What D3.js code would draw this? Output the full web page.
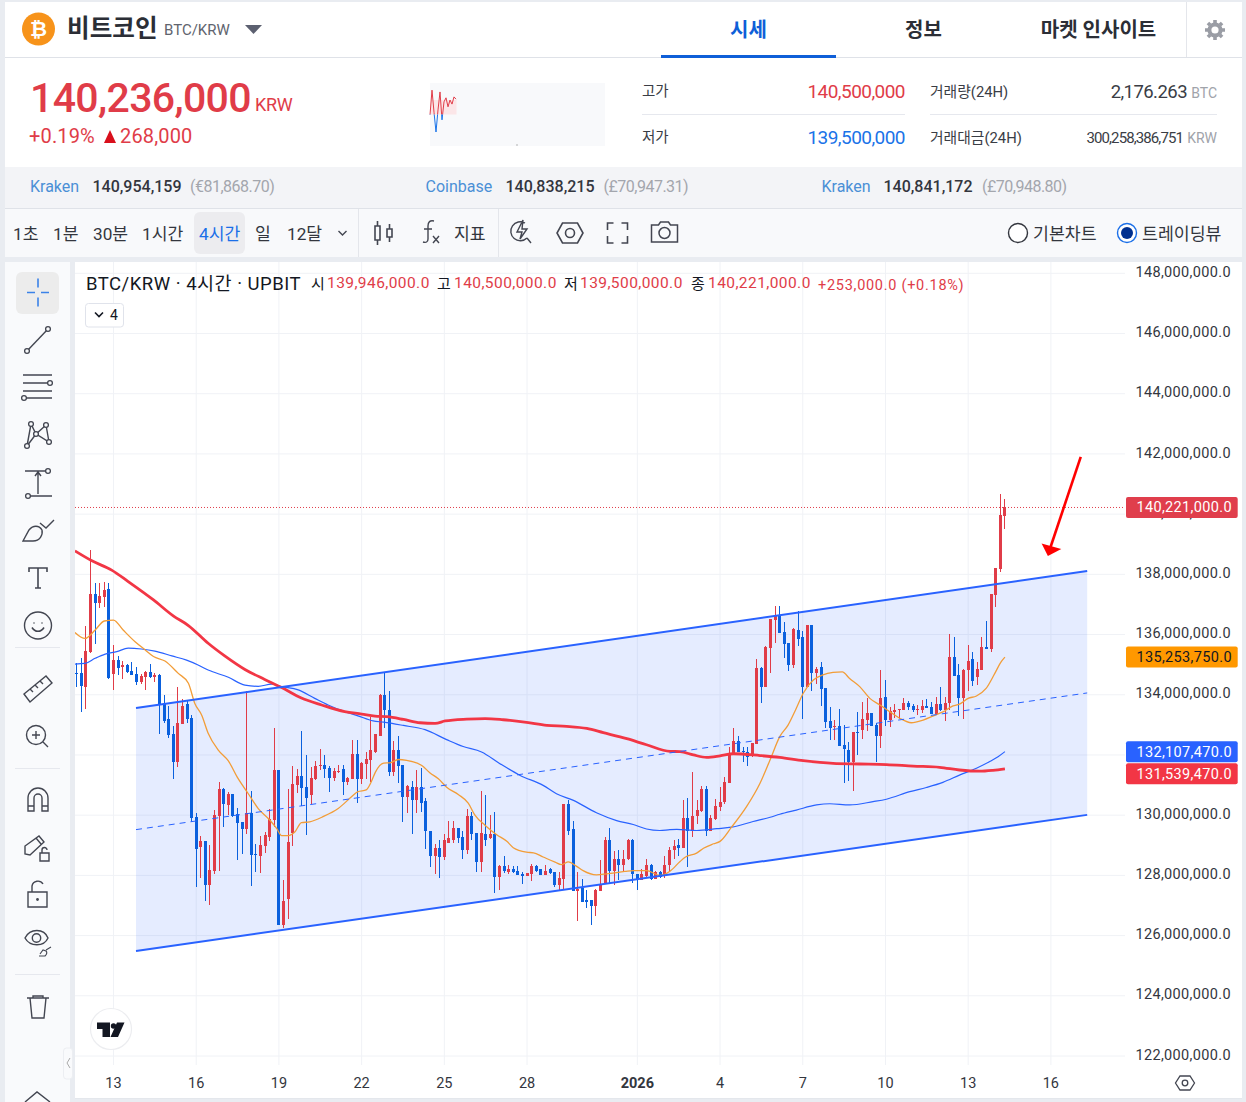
<!DOCTYPE html>
<html>
<head>
<meta charset="utf-8">
<script src="https://cdn.jsdelivr.net/npm/d3@7"></script>
<style>
  html, body { margin: 0; padding: 0; background: #e9ecf1; }
  svg { display: block; }
  text { font-family: Roboto, "Noto Sans CJK KR", sans-serif; }
</style>
</head>
<body>
<script>
// candles are 4h, prices in million KRW
const opens = [
  134.71,134.71,134.27,135.43,137.35,137.06,137.26,137.50,134.70,135.15,
  134.93,134.99,134.79,134.69,134.42,134.59,134.74,134.60,134.66,133.68,
  133.19,132.70,131.77,133.03,133.69,133.22,129.93,128.94,129.14,127.69,
  128.14,129.97,130.86,130.34,130.70,130.03,129.77,129.54,130.06,128.71,
  128.64,128.98,129.26,129.84,131.50,126.34,127.21,129.42,130.99,131.30,
  130.93,130.67,131.20,131.63,131.67,131.57,131.23,131.43,131.53,131.09,
  131.21,132.03,131.19,131.70,131.83,132.10,132.62,133.99,133.51,131.42,
  132.18,131.65,130.59,130.95,130.49,130.92,130.46,129.49,128.63,128.90,
  128.60,129.09,129.19,129.59,129.26,128.83,129.96,129.40,128.46,129.39,
  129.23,129.39,127.93,128.30,128.10,128.20,128.13,128.03,127.97,128.03,
  128.30,128.20,128.00,128.20,128.10,127.67,127.87,130.36,129.53,127.47,
  127.57,127.17,127.17,126.97,127.47,127.72,129.16,128.13,128.56,128.36,
  128.53,129.16,128.05,127.83,127.97,128.36,127.87,128.12,128.03,128.33,
  128.83,129.01,128.90,129.91,129.49,129.98,130.14,130.87,129.49,129.87,
  130.26,130.43,131.08,132.05,132.46,132.13,132.10,131.97,132.36,134.89,
  134.27,135.55,136.48,136.63,136.08,135.72,134.99,136.15,135.92,134.27,
  136.31,134.73,134.92,134.21,133.13,132.93,132.96,132.32,132.16,131.76,
  132.76,132.83,133.16,133.39,133.00,132.64,133.93,133.16,133.44,133.49,
  133.50,133.72,133.63,133.49,133.49,133.62,133.59,133.36,133.69,133.49,
  133.73,135.25,134.65,133.90,134.82,135.19,134.59,134.82,135.59,135.52,
  137.31,138.19,139.946
];
const highs = [
  135.04,135.21,136.28,138.81,137.70,137.70,137.73,137.70,135.65,135.30,
  135.11,135.02,135.09,134.93,134.69,134.79,135.02,134.71,134.68,133.99,
  133.63,132.96,134.25,133.85,133.83,133.33,130.06,129.31,129.14,129.01,
  130.17,131.10,130.90,130.78,130.70,130.24,129.77,134.11,130.80,129.04,
  129.31,129.45,130.19,132.90,131.50,127.85,130.86,131.63,131.52,132.80,
  132.00,131.59,131.80,132.20,131.99,131.63,131.58,131.67,131.66,131.27,
  132.50,132.50,131.78,132.10,133.27,132.70,134.01,134.72,134.11,132.45,
  132.62,131.65,130.99,131.15,131.49,131.58,130.56,129.49,129.03,129.19,
  129.36,129.79,129.79,129.59,129.49,130.19,130.09,129.40,130.79,130.66,
  129.99,130.09,128.36,128.63,128.36,128.30,128.30,128.11,128.08,128.39,
  128.36,128.20,128.33,128.26,128.10,128.10,130.36,130.52,129.79,128.10,
  127.87,127.50,127.17,127.56,128.50,129.27,129.59,128.80,128.83,128.83,
  129.22,129.20,128.05,128.22,128.55,128.39,128.16,128.13,128.63,128.94,
  129.18,129.21,130.49,130.57,131.42,130.49,130.97,130.97,130.01,130.53,
  130.95,131.28,132.28,132.90,132.63,132.28,132.28,132.41,135.19,134.93,
  135.62,136.52,136.95,136.95,136.42,135.73,136.21,136.79,136.13,136.32,
  136.32,134.91,135.09,134.23,133.58,133.16,133.53,133.00,132.43,132.75,
  133.43,133.75,133.89,133.39,133.05,134.82,134.49,133.58,133.69,133.53,
  133.88,133.80,133.69,133.66,133.81,133.86,133.77,133.91,134.26,133.94,
  136.02,135.92,135.02,134.84,135.65,135.42,135.09,135.93,136.45,137.35,
  138.21,140.67,140.50
];
const lows = [
  134.27,133.44,133.53,135.38,135.69,136.88,136.93,134.52,134.16,134.67,
  134.53,134.71,134.64,134.33,134.36,134.16,134.56,134.43,132.70,133.05,
  132.57,131.21,131.60,133.03,133.07,129.78,127.62,127.91,127.15,127.02,
  128.03,128.15,129.60,130.00,129.93,128.51,128.71,129.36,127.65,128.11,
  128.07,128.73,129.14,129.62,126.35,126.24,126.55,128.98,130.72,130.30,
  129.35,130.37,131.17,131.50,131.22,130.77,131.15,131.39,130.67,131.00,
  131.19,130.41,131.03,131.20,131.09,132.06,132.62,132.88,131.29,131.29,
  131.07,129.76,130.06,129.36,130.06,130.12,128.86,128.27,128.03,127.90,
  128.50,129.09,129.09,129.09,128.55,128.70,129.16,128.10,128.10,128.99,
  129.22,127.43,127.50,128.08,128.03,128.09,128.00,127.70,127.97,127.80,
  128.10,128.00,128.00,128.03,127.60,127.53,127.53,129.33,127.47,126.50,
  127.13,126.90,126.34,126.64,127.47,127.70,127.70,127.67,127.83,128.16,
  128.50,127.74,127.50,127.83,127.94,127.85,127.87,127.90,127.91,128.16,
  128.54,128.66,128.90,128.27,129.26,129.71,130.10,129.32,129.46,129.85,
  130.15,130.37,131.08,132.00,132.10,131.78,131.64,131.94,132.36,133.74,
  134.25,134.73,135.73,136.06,135.23,134.80,134.90,135.63,133.21,134.25,
  134.13,134.36,133.64,132.88,132.51,132.50,132.31,131.08,131.13,130.81,
  132.00,132.53,132.80,132.96,131.78,132.22,132.96,132.94,133.23,133.18,
  133.49,133.49,133.44,133.33,133.38,133.55,133.36,133.34,133.47,133.14,
  133.49,134.62,133.30,133.20,134.13,134.29,134.34,134.82,135.52,135.42,
  136.92,138.08,139.50
];
const closes = [
  134.68,134.30,135.45,137.35,137.06,137.28,137.48,134.57,135.15,134.90,
  134.99,134.77,134.67,134.42,134.62,134.74,134.59,134.66,133.68,133.13,
  132.66,131.77,133.05,133.63,133.19,129.92,128.88,129.14,127.69,128.18,
  130.00,130.87,130.37,130.70,129.97,129.75,129.54,130.06,128.68,128.68,
  129.01,129.35,129.88,131.50,126.35,127.15,129.12,131.03,131.30,130.91,
  130.57,131.23,131.63,131.67,131.54,131.23,131.47,131.47,131.10,131.25,
  132.03,131.20,131.72,131.87,132.16,132.68,133.99,133.48,131.42,132.18,
  131.62,130.59,130.97,130.49,130.92,130.42,129.46,128.63,128.90,128.60,
  129.16,129.23,129.59,129.23,128.83,129.96,129.36,128.46,129.40,129.19,
  129.39,127.93,128.30,128.13,128.20,128.10,128.00,127.97,128.07,128.30,
  128.16,128.00,128.16,128.07,127.67,127.90,130.36,129.49,127.47,127.56,
  127.13,127.13,126.97,127.50,127.72,129.16,128.13,128.56,128.36,128.56,
  129.18,128.05,127.85,128.05,128.36,127.87,128.12,127.94,128.36,128.83,
  128.98,128.90,129.91,129.46,129.98,130.18,130.87,129.49,129.90,130.32,
  130.45,131.10,132.05,132.46,132.10,132.10,131.94,132.39,134.89,134.25,
  135.59,136.50,136.63,136.06,135.70,134.99,136.19,135.86,134.26,136.31,
  134.73,134.84,134.20,133.11,132.91,132.96,132.31,132.21,131.75,132.75,
  132.73,133.19,133.38,132.97,132.64,133.88,133.16,133.46,133.49,133.53,
  133.73,133.60,133.50,133.53,133.63,133.57,133.37,133.69,133.49,133.73,
  135.25,134.63,133.90,134.82,135.12,134.46,134.85,135.59,135.52,137.35,
  138.21,139.97,140.221
];

// moving averages: candle position and price
const ma20Pos = [-0.4,1.8,4,6,8,10.1,12.7,14.9,16.7,19.2,22.1,24.3,25.7,27.2,28.6,30.8,33,35.1,37.3,39.5,42,43.5,44.6,46,47.5,48.9,50.7,53.6,56.9,59.8,61.2,63,64.1,65,66.8,68.2,70,71.8,75.1,76.9,78.7,80.5,83.1,85.2,86.7,88.9,91.4,93.6,95,97.9,99.4,101.5,104.1,105.5,107,108.8,110.2,113.1,115.3,119.3,121.1,124,126.9,129.1,131.3,132.4,134.9,136.4,138.6,140,142.5,145.8,148.7,150.9,153,154.8,156.6,158.1,160.3,162.4,164.6,166.6,168.2,170.4,172.6,174.8,176.9,179.1,181.6,184.2,186.3,188.5,190.7,192.1,194,195.8,197.9,199.8,201.2,202];
const ma20Val = [136.07,135.87,136.15,136.45,136.48,136.15,135.76,135.49,135.27,135.12,134.71,134.38,133.71,133.32,132.72,132.16,131.80,131.22,130.72,130.22,129.84,129.56,129.32,129.32,129.45,129.75,129.78,129.95,130.22,130.61,130.78,130.84,131.11,131.43,131.73,131.74,131.85,131.82,131.65,131.40,131.21,130.93,130.68,130.40,129.99,129.66,129.35,129.13,128.92,128.77,128.75,128.61,128.44,128.36,128.45,128.30,128.16,128.02,128.05,128.13,128.16,128.16,128.00,128.14,128.46,128.60,128.74,128.90,129.05,129.13,129.60,130.29,131.06,131.84,132.61,132.99,133.55,134.05,134.49,134.66,134.74,134.76,134.54,134.27,133.88,133.66,133.44,133.22,133.07,133.16,133.29,133.43,133.63,133.69,133.88,133.96,134.21,134.71,135.10,135.25];

const ma60Pos = [-0.4,1.8,4,6.2,8.7,11.2,14.1,17,20.7,23.9,26.4,28.6,33,36.6,39.5,42.4,44.6,48.2,51.8,54.7,58.3,61.2,64.5,66.8,71.1,75.8,80.5,84.1,88.1,92.1,96.5,101.5,104.4,108.1,113.1,117.5,121.1,124,126.9,129.1,130.6,134.9,139.3,142.5,147.2,150.9,153,156.6,161,163.9,168.2,173.3,176.2,181.3,184.9,188.5,192.1,195.8,198.7,200.5,202];
const ma60Val = [135.02,135.04,135.21,135.35,135.43,135.55,135.52,135.45,135.29,135.15,134.99,134.82,134.58,134.32,134.28,134.35,134.27,134.16,133.88,133.66,133.44,133.30,133.13,133.09,132.98,132.84,132.51,132.28,132.10,131.71,131.32,130.99,130.71,130.49,130.08,129.82,129.69,129.54,129.49,129.52,129.53,129.49,129.55,129.60,129.79,129.93,130.03,130.17,130.34,130.38,130.34,130.45,130.53,130.78,130.92,131.09,131.33,131.56,131.78,131.94,132.11];

const ma120Pos = [-0.4,3.3,7.6,11.2,16.7,21,24.3,28.6,32.2,36.6,40.9,44.6,48.9,53.3,58.3,62,64.9,67.5,71.1,74.7,78,80.2,84.9,88.9,92.8,97.9,102.3,106.6,111,114.6,119.7,124,129.1,131.3,134.2,137.1,140,142.9,148.7,153,158.1,164.6,170.4,176.2,182,187.8,192.1,196.5,199.4,202];
const ma120Val = [138.78,138.45,138.14,137.76,137.15,136.62,136.30,135.71,135.29,134.84,134.51,134.24,133.89,133.66,133.44,133.36,133.29,133.27,133.18,133.07,133.05,133.13,133.19,133.21,133.17,133.08,132.98,132.95,132.88,132.74,132.54,132.34,132.12,132.11,132.00,131.92,131.97,132.04,131.98,131.92,131.81,131.72,131.70,131.68,131.63,131.59,131.50,131.46,131.49,131.54];

// drawn channel and arrow, anchored in chart units
const channelPos = [12.9, 219.9];
const channelTop = [133.56, 138.11];
const channelMid = [129.52, 134.06];
const channelBot = [125.49, 130.01];
const arrowPos = [218.5, 211.35];
const arrowVal = [141.90, 138.61];

const priceTicks = [148,146,144,142,140,138,136,134,132,130,128,126,124,122];
const dayPos = [8,26,44,62,80,98,122,140,158,176,194,212];
const dayLabels = ["13","16","19","22","25","28","2026","4","7","10","13","16"];

const tagValues = [140.221,135.25375,132.10747,131.53947];
const tagLabels = ["140,221,000.0","135,253,750.0","132,107,470.0","131,539,470.0"];
const tagColors = ["#e03e4c","#ff9800","#2962ff","#f23645"];
const tagText = ["#fff","#131722","#fff","#fff"];

const sparkValues = [139.88,140.43,139.94,139.50,139.99,140.39,139.77,140.17,140.26,140.06,140.21,140.12,140.28,140.23];

const upColor = "#e03c48", downColor = "#0a60dd";
const width = 1246, height = 1102;

const svg = d3.select("body").append("svg").attr("width", width).attr("height", height);

const x = d3.scaleLinear().domain([0, 202]).range([76.74, 1004.93]);
const y = d3.scaleLinear().domain([122, 148]).range([1056, 273.3]);

// panels
function box(px, py, w, h, fill) {
  return svg.append("rect").attr("x", px).attr("y", py).attr("width", w).attr("height", h).attr("fill", fill);
}
function label(px, py, str, size, color, opts = {}) {
  return svg.append("text").attr("x", px).attr("y", py).text(str)
    .attr("font-size", size).attr("fill", color)
    .attr("font-weight", opts.weight || 400)
    .attr("text-anchor", opts.anchor || "start")
    .attr("letter-spacing", opts.spacing || 0);
}
function hline(x1, x2, py, color) {
  svg.append("line").attr("x1", x1).attr("x2", x2).attr("y1", py).attr("y2", py).attr("stroke", color);
}
function vline(px, y1, y2, color) {
  svg.append("line").attr("x1", px).attr("x2", px).attr("y1", y1).attr("y2", y2).attr("stroke", color);
}

box(5, 2, 1237, 165, "#fff");
box(5, 167, 1237, 41, "#f3f4f7");
box(5, 209, 1237, 48, "#f8f9fb");
hline(5, 1242, 57.5, "#dfe2e8");
hline(5, 1242, 208.5, "#dfe2e8");
box(5, 262, 65, 840, "#f9fafc");
box(75, 262, 1167, 836, "#fff");

// header
svg.append("circle").attr("cx", 38.5).attr("cy", 29).attr("r", 16.5).attr("fill", "#f7931a");
label(38.5, 36, "₿", 21, "#fff", { anchor: "middle", weight: 700 });
label(67, 37, "비트코인", 24.6, "#2b2e36", { weight: 700 });
label(164, 35, "BTC/KRW", 15, "#60646e");
svg.append("path").attr("d", "M245 25H262L253.5 34Z").attr("fill", "#5c6070");
label(748.5, 37, "시세", 20, "#0f5fd8", { anchor: "middle", weight: 700 });
box(661, 55, 175, 3, "#0f5fd8");
label(923.5, 37, "정보", 20, "#2b2e36", { anchor: "middle", weight: 700 });
label(1098.5, 37, "마켓 인사이트", 20, "#2b2e36", { anchor: "middle", weight: 700 });
vline(1186.5, 2, 57, "#e4e6eb");
// settings gear
svg.append("path").attr("transform", "translate(1215,30)")
  .attr("d", d3.range(8).map(i => {
    const a = i * Math.PI / 4;
    return `M${7 * Math.cos(a)} ${7 * Math.sin(a)}L${10 * Math.cos(a)} ${10 * Math.sin(a)}`;
  }).join("")).attr("stroke", "#9a9da5").attr("stroke-width", 3.6);
svg.append("circle").attr("cx", 1215).attr("cy", 30).attr("r", 5.6).attr("fill", "none").attr("stroke", "#9a9da5").attr("stroke-width", 4);

// price summary
label(30, 112, "140,236,000", 41, "#e03c48", { weight: 500, spacing: -0.65 });
label(255, 111, "KRW", 18, "#e03c48", { spacing: -0.3 });
label(29, 143, "+0.19%", 20, "#e03c48", { spacing: 0.15 });
svg.append("path").attr("d", "M104 143L110 130L116 143Z").attr("fill", "#d90f1c");
label(120, 143, "268,000", 20, "#e03c48", { spacing: 0.15 });

// small day chart
box(430, 83, 175, 63, "#f8f9fb");
box(431, 100, 25.5, 14.5, "#fbe6e8");
const sparkX = d3.scaleLinear().domain([0, 13]).range([430, 456]);
const sparkY = d3.scaleLinear().domain([139.5, 140.5]).range([132, 87]);
const sparkLine = d3.line().x((d, i) => sparkX(i)).y(d => sparkY(d));
const defs = svg.append("defs");
defs.append("clipPath").attr("id", "sparkUp").append("rect").attr("x", 428).attr("y", 83).attr("width", 40).attr("height", 31.5);
defs.append("clipPath").attr("id", "sparkDown").append("rect").attr("x", 428).attr("y", 114.5).attr("width", 40).attr("height", 31);
defs.append("clipPath").attr("id", "plot").append("rect").attr("x", 75).attr("y", 262).attr("width", 1050).attr("height", 803);
[["sparkUp", "#e03c48"], ["sparkDown", "#1a73e8"]].forEach(([id, color]) => {
  svg.append("path").datum(sparkValues).attr("d", sparkLine).attr("fill", "none")
    .attr("stroke", color).attr("stroke-width", 1).attr("clip-path", `url(#${id})`);
});
svg.append("circle").attr("cx", 517).attr("cy", 145).attr("r", 0.7).attr("fill", "#999");

// high / low / volume
label(642, 96, "고가", 14.5, "#3a3d45");
label(905, 98, "140,500,000", 19, "#e03c48", { anchor: "end", spacing: -0.55 });
hline(642, 905, 114.5, "#e6e8ee");
label(642, 142, "저가", 14.5, "#3a3d45");
label(905, 144, "139,500,000", 19, "#1a73e8", { anchor: "end", spacing: -0.55 });
label(930, 97, "거래량(24H)", 14.8, "#3a3d45");
label(1187, 98, "2,176.263", 18.5, "#3a3d45", { anchor: "end", spacing: -0.55 });
label(1217, 98, "BTC", 14, "#a0a3aa", { anchor: "end" });
hline(930, 1217, 114.5, "#e6e8ee");
label(930, 143, "거래대금(24H)", 14.8, "#3a3d45");
label(1183, 143, "300,258,386,751", 15, "#3a3d45", { anchor: "end", spacing: -0.9 });
label(1217, 143, "KRW", 14, "#a0a3aa", { anchor: "end" });

// exchange prices
[[30, 92.5, 190, "Kraken", "140,954,159", "(€81,868.70)"],
 [425.5, 505.5, 603.5, "Coinbase", "140,838,215", "(£70,947.31)"],
 [821.5, 883.5, 982, "Kraken", "140,841,172", "(£70,948.80)"]].forEach(r => {
  label(r[0], 192, r[3], 16, "#4a8fd6");
  label(r[1], 192, r[4], 16, "#33363e", { weight: 500 });
  label(r[2], 192, r[5], 16, "#a3a6ad", { spacing: -0.5 });
});

// toolbar
box(194, 212, 51, 42, "#ececef").attr("rx", 6);
[[13, "1초"], [53, "1분"], [93, "30분"], [142, "1시간"], [255, "일"], [287, "12달"]].forEach(d => {
  label(d[0], 240, d[1], 17.2, "#33363e");
});
label(199, 240, "4시간", 17.2, "#1a6fe8");
const iconStroke = "#434651";
function icon(d, tx, ty, sw = 1.4, color = iconStroke) {
  return svg.append("path").attr("transform", `translate(${tx},${ty})`).attr("d", d)
    .attr("fill", "none").attr("stroke", color).attr("stroke-width", sw);
}
icon("M-4 -2L0 2L4 -2", 342.5, 233, 1.4);
vline(358.5, 209, 257, "#e4e6eb");
vline(498.5, 209, 257, "#e4e6eb");
// candle type
icon("M-9 -7h5v14h-5zM-6.5 -12v5M-6.5 7v5M3 -4h5v8h-5zM5.5 -9v5M5.5 4v5", 384, 233, 1.6);
// fx
icon("M6 -11C2 -12 0 -10 0 -6V7C0 10 -2 11 -5 10M-4 -3H4", 428, 232, 1.4);
icon("M0 0L6 7M6 0L0 7", 433, 236, 1.4);
label(454, 240, "지표", 17.2, "#33363e");
// lightning search
icon("M5 -9A9.5 9.5 0 1 0 7 6M7 6L11 11M3 -12L-3 0H2L0 7L7 -3H2Z", 520, 232, 1.4);
const hexPath = "M-7.5 -10H7.5L13 0L7.5 10H-7.5L-13 0Z";
icon(hexPath, 570, 233, 1.6);
svg.append("circle").attr("cx", 570).attr("cy", 233).attr("r", 4.5).attr("fill", "none").attr("stroke", iconStroke).attr("stroke-width", 1.6);
icon("M-4 -10H-10V-3M4 -10H10V-3M-10 3V10H-4M10 3V10H4", 617.5, 233, 1.6);
icon("M-13 -7h7l2 -3h8l2 3h7v17h-26z", 664.5, 232, 1.5);
svg.append("circle").attr("cx", 664.5).attr("cy", 233).attr("r", 5.5).attr("fill", "none").attr("stroke", iconStroke).attr("stroke-width", 1.5);
svg.append("circle").attr("cx", 1018).attr("cy", 233).attr("r", 9.5).attr("fill", "#fff").attr("stroke", "#33363e").attr("stroke-width", 1.4);
label(1033, 240, "기본차트", 17.3, "#33363e");
svg.append("circle").attr("cx", 1127).attr("cy", 233).attr("r", 9.5).attr("fill", "#fff").attr("stroke", "#1a6fe8").attr("stroke-width", 1.4);
svg.append("circle").attr("cx", 1127).attr("cy", 233).attr("r", 6).attr("fill", "#003090");
label(1142, 240, "트레이딩뷰", 17.3, "#33363e");

// chart grid
const gridColor = "#f0f2f6";
const gridG = svg.append("g");
gridG.selectAll("line.h").data(priceTicks).enter().append("line")
  .attr("x1", 75).attr("x2", 1125).attr("y1", d => y(d)).attr("y2", d => y(d)).attr("stroke", gridColor);
gridG.selectAll("line.v").data(dayPos).enter().append("line")
  .attr("x1", d => x(d)).attr("x2", d => x(d)).attr("y1", 262).attr("y2", 1065).attr("stroke", gridColor);

const plot = svg.append("g").attr("clip-path", "url(#plot)");

// channel fill sits under the candles
const channelArea = d3.area().x((d, i) => x(channelPos[i])).y0((d, i) => y(channelBot[i])).y1(d => y(d));
plot.append("path").datum(channelTop).attr("d", channelArea).attr("fill", "#2962ff").attr("fill-opacity", 0.12);

// last price line
plot.append("line").attr("x1", 75).attr("x2", 1125).attr("y1", y(140.221)).attr("y2", y(140.221))
  .attr("stroke", "#e03e4c").attr("stroke-dasharray", "1,2");

// candles
const candles = opens.map((o, i) => ({ i, o, h: highs[i], l: lows[i], c: closes[i] }));
const candleColor = d => d.c > d.o ? upColor : downColor;
plot.append("g").attr("shape-rendering", "crispEdges").selectAll("line").data(candles).enter().append("line")
  .attr("x1", d => x(d.i)).attr("x2", d => x(d.i))
  .attr("y1", d => y(d.h)).attr("y2", d => y(d.l))
  .attr("stroke", candleColor).attr("stroke-width", 1);
plot.append("g").attr("shape-rendering", "crispEdges").selectAll("rect").data(candles).enter().append("rect")
  .attr("x", d => x(d.i) - 1.5).attr("width", 3)
  .attr("y", d => y(Math.max(d.o, d.c)))
  .attr("height", d => Math.max(1, Math.abs(y(d.o) - y(d.c))))
  .attr("fill", candleColor);

// moving averages
function maLine(pos, val, color, w) {
  const line = d3.line().x((d, i) => x(pos[i])).y(d => y(d)).curve(d3.curveMonotoneX);
  plot.append("path").datum(val).attr("d", line).attr("fill", "none").attr("stroke", color).attr("stroke-width", w);
}
maLine(ma60Pos, ma60Val, "#2962ff", 1.2);
maLine(ma20Pos, ma20Val, "#f29d38", 1.3);
maLine(ma120Pos, ma120Val, "#f23645", 2.8);

// channel lines
const channelLine = d3.line().x((d, i) => x(channelPos[i])).y(d => y(d));
[channelTop, channelBot].forEach(v => {
  plot.append("path").datum(v).attr("d", channelLine).attr("fill", "none").attr("stroke", "#2962ff").attr("stroke-width", 2);
});
plot.append("path").datum(channelMid).attr("d", channelLine).attr("fill", "none")
  .attr("stroke", "#2962ff").attr("stroke-width", 1).attr("stroke-dasharray", "6,5");

// red arrow
const ax1 = x(arrowPos[0]), ay1 = y(arrowVal[0]), ax2 = x(arrowPos[1]), ay2 = y(arrowVal[1]);
svg.append("line").attr("x1", ax1).attr("y1", ay1).attr("x2", ax2 + 2).attr("y2", ay2 - 7)
  .attr("stroke", "#ff0000").attr("stroke-width", 2.6);
svg.append("path").attr("d", `M${ax2} ${ay2}L${ax2 - 6.3} ${ay2 - 12.5}L${ax2 + 13.4} ${ay2 - 7}Z`).attr("fill", "#ff0000");

// price axis
const yAxis = svg.append("g").attr("transform", "translate(1125,0)")
  .call(d3.axisRight(y).tickValues(priceTicks).tickSize(0)
    .tickFormat(d => d3.format(",.1f")(d * 1e6)));
yAxis.select(".domain").remove();
yAxis.selectAll("text").attr("x", 106).attr("text-anchor", "end").attr("dy", "0.22em")
  .attr("font-family", "Roboto").style("font-size", "14.5px").attr("fill", "#33363e").attr("letter-spacing", 0.35);

// time axis
const xAxis = svg.append("g").attr("transform", "translate(-0.5,1071)")
  .call(d3.axisBottom(x).tickValues(dayPos).tickSize(0)
    .tickFormat((d, i) => dayLabels[i]));
xAxis.select(".domain").remove();
xAxis.selectAll("text").attr("y", 7).attr("dy", "0.71em")
  .attr("font-family", "Roboto").style("font-size", "14.5px").attr("fill", "#33363e")
  .attr("font-weight", d => d === 122 ? 700 : 400);
hline(75, 1242, 1098.5, "#e4e7ec");
icon("M-5 -7H5L9.5 0L5 7H-5L-9.5 0Z", 1185, 1083, 1.3);
svg.append("circle").attr("cx", 1185).attr("cy", 1083).attr("r", 2.8).attr("fill", "none").attr("stroke", iconStroke).attr("stroke-width", 1.3);

// last value tags, pushed down when two would overlap
let lastBottom = 0;
tagValues.forEach((v, i) => {
  const top = Math.max(y(v) - 10.5, lastBottom + 1);
  lastBottom = top + 21;
  svg.append("rect").attr("x", 1126).attr("y", top).attr("width", 111.7).attr("height", 21).attr("rx", 2).attr("fill", tagColors[i]);
  label(1232, top + 15.5, tagLabels[i], 14.5, tagText[i], { anchor: "end", spacing: 0.35 });
});

// legend
label(86, 290, "BTC/KRW · 4시간 · UPBIT", 18.5, "#131722", { spacing: 0.5 });
[[311, 327, "시", "139,946,000.0"], [437, 454, "고", "140,500,000.0"],
 [564, 580, "저", "139,500,000.0"], [691, 708, "종", "140,221,000.0"]].forEach(r => {
  label(r[0], 289, r[2], 15, "#131722");
  label(r[1], 288, r[3], 15.5, "#e03c48", { spacing: 0.42 });
});
label(818, 290, "+253,000.0 (+0.18%)", 14.5, "#e03c48", { spacing: 0.72 });
svg.append("rect").attr("x", 85.5).attr("y", 303.5).attr("width", 38).attr("height", 23.5).attr("rx", 3)
  .attr("fill", "#fff").attr("stroke", "#e0e3eb");
icon("M-4 -2L0 2L4 -2", 99, 314.5, 1.6, "#131722");
label(110, 320, "4", 14, "#131722");

// left drawing tools
box(16, 272, 43, 42, "#ececec").attr("rx", 6);
const hlBlue = "#3b82e8";
icon("M-11 0H-3M3 0H11M0 -14V-5M0 5V14", 38, 292.5, 1.6, hlBlue);
function node(px, py) {
  svg.append("circle").attr("cx", px).attr("cy", py).attr("r", 2.4).attr("fill", "#f9fafc").attr("stroke", iconStroke).attr("stroke-width", 1.3);
}
icon("M27 351L48 329", 0, 0); node(27, 351); node(48, 329);
icon("M23 375H52M23 383H50M23 391H52M26 398H52", 0, 0); node(50, 383); node(24, 398);
icon("M27 446L31 424L36 434L46 425L49 442L36 434Z", 0, 0);
[[27, 446], [31, 424], [36, 434], [46, 425], [49, 442]].forEach(p => node(p[0], p[1]));
icon("M25 471H48M28 496H52M38 494V473M35 476L38 472L41 476", 0, 0); node(48, 471); node(28, 496);
icon("M23 541H33C40 541 43 535 42 530C39 525 33 525 29 530ZM40 523L46 528L54 520", 0, 0);
icon("M-9 -6V-10H9V-6M0 -10V10M-3 10H3", 38, 578, 1.6);
svg.append("circle").attr("cx", 38).attr("cy", 625.5).attr("r", 13.5).attr("fill", "none").attr("stroke", iconStroke).attr("stroke-width", 1.4);
icon("M-6 2C-3 7 3 7 6 2M-4 -3V-2M4 -3V-2", 38, 625.5, 1.6);
hline(15, 60, 647.5, "#e6e8ee");
icon("M24 694L46 676L52 683L30 702ZM30 689L33 692M35 685L38 688M40 681L43 684", 0, 0);
svg.append("circle").attr("cx", 36).attr("cy", 735).attr("r", 9.5).attr("fill", "none").attr("stroke", iconStroke).attr("stroke-width", 1.4);
icon("M43 742L48 747M32 735H40M36 731V739", 0, 0);
hline(15, 60, 768.5, "#e6e8ee");
icon("M28 811V798A10 10 0 0 1 48 798V811H42V798A4 4 0 0 0 34 798V811ZM28 806H34M42 806H48", 0, 0);
icon("M25 854V846L39 836L44 842L30 855ZM36 838L41 844", 0, 0);
icon("M40 861V853H49V861ZM42 853V850A2.5 2.5 0 0 1 47 850", 0, 0);
icon("M28 907V892H47V907ZM32 892V886A6 6 0 0 1 43 884", 0, 0);
svg.append("circle").attr("cx", 37.5).attr("cy", 899.5).attr("r", 1.4).attr("fill", iconStroke);
icon("M25 938C30 928 44 928 48 938C44 947 30 947 25 938Z", 0, 0);
svg.append("circle").attr("cx", 36.5).attr("cy", 938).attr("r", 4.2).attr("fill", "none").attr("stroke", iconStroke).attr("stroke-width", 1.4);
icon("M39 956H45C47 954 47 952 46 951L43 950L40 954M46 950L51 947", 0, 0, 1.1);
hline(15, 60, 974.5, "#e6e8ee");
icon("M27 998H49M33 998V996H43V998M30 998L32 1018H44L46 998", 0, 0);
icon("M25 1102L37 1092L50 1102", 0, 0);
svg.append("rect").attr("x", 63.5).attr("y", 1048).attr("width", 9).attr("height", 31).attr("rx", 3).attr("fill", "#f9fafc").attr("stroke", "#eceef2");
icon("M70 1058L67 1063L70 1068", 0, 0, 1, "#aaa");

// tradingview badge
svg.append("circle").attr("cx", 111).attr("cy", 1029).attr("r", 20.5).attr("fill", "#fff").attr("stroke", "#ecedf0").attr("stroke-width", 1.2);
svg.append("path").attr("d", "M97 1022.5H110V1037H102.5V1029H97ZM124.5 1022.5L118 1037H110.5L117 1022.5Z").attr("fill", "#131722");
svg.append("circle").attr("cx", 113.5).attr("cy", 1026).attr("r", 2.7).attr("fill", "#131722");
</script>
</body>
</html>
